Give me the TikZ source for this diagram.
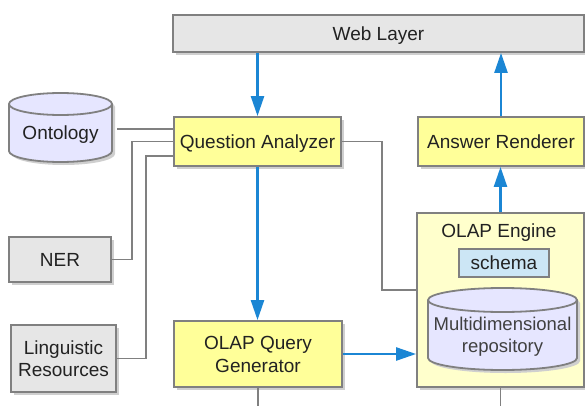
\documentclass[tikz,border=0pt]{standalone}
\usepackage{fontspec}
\setmainfont{Liberation Sans}
\usetikzlibrary{arrows.meta,shadows,calc}
\definecolor{bx}{HTML}{808080}
\definecolor{txt}{HTML}{222222}
\definecolor{shd}{HTML}{CFCFCF}
\definecolor{yel}{HTML}{FFFF99}
\definecolor{lyel}{HTML}{FFFFCC}
\definecolor{gry}{HTML}{E6E6E6}
\definecolor{lav}{HTML}{E6E6FF}
\definecolor{sch}{HTML}{CCE6F5}
\definecolor{blu}{RGB}{27,134,212}
\begin{document}
\begin{tikzpicture}[x=1pt,y=-1pt,font=\fontsize{19}{23}\selectfont,text=txt,
  capc/.style={text height=13.6pt,text depth=0pt},
  box/.style={draw=bx,line width=1.8pt,inner sep=0pt,align=center,
    general shadow={fill=shd,shadow xshift=3pt,shadow yshift=-3pt}},
  ybox/.style={box,fill=yel},
  gbox/.style={box,fill=gry},
  cyl/.style={draw=bx,line width=1.8pt,fill=lav},
  cylshadow/.style={fill=shd},
  conn/.style={draw=bx,line width=1.6pt},
  flow/.style={draw=blu,line width=2.4pt,-{Triangle[length=20pt,width=13pt]}}]
\useasboundingbox (0,0) rectangle (585,406);
% cylinders (drawn directly)
\begin{scope}[shift={(3,3)}]
\fill[cylshadow] (9,104) -- (9,151) .. controls (9,157.1) and (32.1,162) .. (60.5,162) .. controls (88.9,162) and (112,157.1) .. (112,151) -- (112,104) .. controls (112,97.9) and (88.9,93) .. (60.5,93) .. controls (32.1,93) and (9,97.9) .. (9,104) -- cycle;
\end{scope}
\path[cyl] (9,104) -- (9,151) .. controls (9,157.1) and (32.1,162) .. (60.5,162) .. controls (88.9,162) and (112,157.1) .. (112,151) -- (112,104) .. controls (112,97.9) and (88.9,93) .. (60.5,93) .. controls (32.1,93) and (9,97.9) .. (9,104) -- cycle;
\draw[draw=bx,line width=1.8pt] (9,104) .. controls (9,110.1) and (32.1,115) .. (60.5,115) .. controls (88.9,115) and (112,110.1) .. (112,104);
% nodes
\node[gbox,capc,minimum width=411pt,minimum height=37pt] (Web) at (378.5,33.5) {Web Layer};
\node[ybox,capc,minimum width=167pt,minimum height=49pt] (QA) at (257.5,141.5) {Question Analyzer};
\node[ybox,capc,minimum width=166pt,minimum height=49pt] (AR) at (501,141.5) {Answer Renderer};
\node[ybox,minimum width=168pt,minimum height=66pt] (QG) at (258,354) {OLAP Query\\Generator};
\node[gbox,capc,minimum width=102pt,minimum height=45pt] (NER) at (60,259.5) {NER};
\node[gbox,minimum width=105pt,minimum height=67pt,font=\fontsize{19}{22}\selectfont] (LR) at (63.5,358.5) {Linguistic\\Resources};
\node[box,fill=lyel,minimum width=167pt,minimum height=174pt] (Eng) at (500.5,300) {};
\node[inner sep=0pt,capc] (EngT) at (499,231) {OLAP Engine};
\node[draw=bx,line width=1.8pt,fill=sch,inner sep=0pt,capc,minimum width=90pt,minimum height=28pt] (Sch) at (504,263) {schema};
\node[inner sep=0pt,capc,minimum width=103pt] (Onto) at (60.5,133) {Ontology};
% repository cylinder
\begin{scope}[shift={(3,3)}]
\fill[cylshadow] (428,300) -- (428,358) .. controls (428,364.6) and (461.4,370) .. (502.5,370) .. controls (543.6,370) and (577,364.6) .. (577,358) -- (577,300) .. controls (577,293.4) and (543.6,288) .. (502.5,288) .. controls (461.4,288) and (428,293.4) .. (428,300) -- cycle;
\end{scope}
\path[cyl] (428,300) -- (428,358) .. controls (428,364.6) and (461.4,370) .. (502.5,370) .. controls (543.6,370) and (577,364.6) .. (577,358) -- (577,300) .. controls (577,293.4) and (543.6,288) .. (502.5,288) .. controls (461.4,288) and (428,293.4) .. (428,300) -- cycle;
\draw[draw=bx,line width=1.8pt] (428,300) .. controls (428,306.6) and (461.4,312) .. (502.5,312) .. controls (543.6,312) and (577,306.6) .. (577,300);
\node[align=center,inner sep=0pt,font=\fontsize{18.5}{22}\selectfont,text=black!75] (Repo) at (502.5,337) {Multidimensional\\repository};
% gray connectors
\coordinate (qa1) at ([yshift=12.5pt]QA.west);
\coordinate (qa3) at ([yshift=-14.5pt]QA.west);
\draw[conn] (qa1) -- ([xshift=5pt]qa1 -| Onto.east);
\draw[conn] (QA.west) -- ++(-41,0) |- (NER.east);
\draw[conn] (qa3) -- ++(-27,0) |- (LR.east);
\draw[conn] (QA.east) -- ++(40,0) |- ([yshift=10pt]Eng.west);
\coordinate (qgend) at ([yshift=-20pt]QG.south);
\coordinate (engend) at ([yshift=-20pt]Eng.south);
\draw[conn] (QG.south) -- (qgend);
\draw[conn] (Eng.south) -- (engend);
% blue flows
\draw[flow] (Web.south -| QA.north) -- (QA.north);
\draw[flow] (QA.south) -- (QA.south |- QG.north);
\draw[flow] (QG.east) -- (QG.east -| Eng.west);
\draw[flow] (Eng.north) -- (Eng.north |- AR.south);
\draw[flow] (AR.north) -- (AR.north |- Web.south);
\end{tikzpicture}
\end{document}
